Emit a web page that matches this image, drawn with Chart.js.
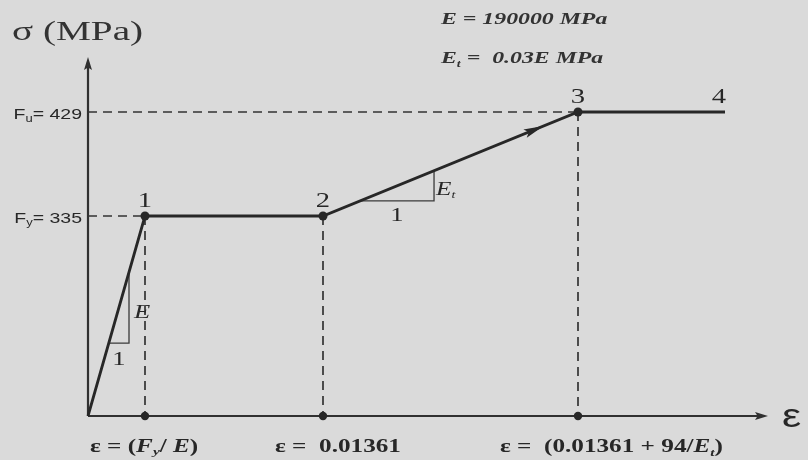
<!DOCTYPE html>
<html>
<head>
<meta charset="utf-8">
<script src="https://cdn.jsdelivr.net/npm/chart.js@4/dist/chart.umd.min.js"></script>
<style>
  html, body { margin: 0; padding: 0; background: #dadada; }
  #wrap { width: 808px; height: 460px; position: relative; }
</style>
</head>
<body>
<div id="wrap"><canvas id="chart"></canvas></div>
<script>
// Bilinear steel model: key points of the stress-strain curve
const pointNames = ['', '1', '2', '3', '4'];
const strainValues = [0, 0.00176, 0.01361, 0.03010, 0.0400];
const stressValues = [0, 335, 335, 429, 429];

// Stress levels marked on the vertical axis
const stressTicks = [429, 335];
const stressTickSymbols = ['u', 'y'];

// Strains marked on the horizontal axis
const strainTicks = [0.00176, 0.01361, 0.03010];

// Slope triangles (run / rise) drawn along the elastic and hardening branches
const elasticTriStrain = [0.000642, 0.001266, 0.001266];
const elasticTriStress = [122, 122, 240];
const hardeningTriStrain = [0.0160, 0.02079, 0.02079];
const hardeningTriStress = [348.6, 348.6, 375.9];

// The diagram is a sketch, not drawn to scale: each axis is piecewise linear
const AXIS_BREAKS = {
  x: { values: [0, 0.00176, 0.01361, 0.03010, 0.0400, 0.0428],
       fractions: [0, 57 / 680, 235 / 680, 490 / 680, 637 / 680, 1] },
  y: { values: [0, 335, 429, 480],
       fractions: [0, 200 / 358, 304 / 358, 1] }
};

class PiecewiseScale extends Chart.LinearScale {
  _toFraction(v) {
    const b = AXIS_BREAKS[this.id];
    const vals = b.values, fr = b.fractions;
    let i = 1;
    while (i < vals.length - 1 && v > vals[i]) i++;
    return fr[i - 1] + (v - vals[i - 1]) * (fr[i] - fr[i - 1]) / (vals[i] - vals[i - 1]);
  }
  getPixelForValue(value) {
    if (value === null || value === undefined || isNaN(value)) return NaN;
    return this.getPixelForDecimal(this._toFraction(value));
  }
  getValueForPixel(pixel) {
    const d = this.getDecimalForPixel(pixel);
    const b = AXIS_BREAKS[this.id];
    const vals = b.values, fr = b.fractions;
    let i = 1;
    while (i < fr.length - 1 && d > fr[i]) i++;
    return vals[i - 1] + (d - fr[i - 1]) * (vals[i] - vals[i - 1]) / (fr[i] - fr[i - 1]);
  }
}
PiecewiseScale.id = 'piecewise';
PiecewiseScale.defaults = Chart.LinearScale.defaults;
Chart.register(PiecewiseScale);

const INK = '#272727';
const SERIF = '"Liberation Serif", "Times New Roman", serif';
const SANS = '"Liberation Sans", Arial, sans-serif';
const STRETCH = 1.4; // the lettering is set wide

function pts(xs, ys) { return xs.map((x, i) => ({ x, y: ys[i] })); }

// Dashed guides from the key points to both axes
const guideData = [];
[[strainValues[1], stressValues[1]], [strainValues[3], stressValues[3]]].forEach(([e, s]) => {
  guideData.push({ x: 0, y: s }, { x: e, y: s }, { x: e, y: null });
});
[[strainValues[1], stressValues[1]], [strainValues[2], stressValues[2]], [strainValues[3], stressValues[3]]].forEach(([e, s]) => {
  guideData.push({ x: e, y: s }, { x: e, y: 0 }, { x: e, y: null });
});

function drawRich(ctx, parts, x, y, align, stretch) {
  const sx = stretch || STRETCH;
  ctx.save();
  let w = 0;
  parts.forEach(p => { ctx.font = p.font; w += ctx.measureText(p.t).width; });
  ctx.translate(x, y);
  ctx.scale(sx, 1);
  let cx = align === 'center' ? -w / 2 : (align === 'right' ? -w : 0);
  ctx.textBaseline = 'alphabetic';
  ctx.textAlign = 'left';
  parts.forEach(p => {
    ctx.font = p.font;
    ctx.fillStyle = p.color || INK;
    ctx.fillText(p.t, cx, p.dy || 0);
    cx += ctx.measureText(p.t).width;
  });
  ctx.restore();
}

function arrowHead(ctx, tipX, tipY, angle, len, half) {
  ctx.save();
  ctx.translate(tipX, tipY);
  ctx.rotate(angle);
  ctx.beginPath();
  ctx.moveTo(0, 0);
  ctx.lineTo(-len, -half);
  ctx.lineTo(-len * 0.8, 0);
  ctx.lineTo(-len, half);
  ctx.closePath();
  ctx.fill();
  ctx.restore();
}

const diagramPlugin = {
  id: 'diagram',
  beforeDraw(chart) {
    const ctx = chart.ctx;
    ctx.save();
    ctx.fillStyle = '#dadada';
    ctx.fillRect(0, 0, chart.width, chart.height);
    ctx.restore();
  },
  beforeDatasetsDraw(chart) {
    const { ctx, chartArea: a, scales: { x, y } } = chart;
    const ox = x.getPixelForValue(0), oy = y.getPixelForValue(0);
    ctx.save();
    ctx.strokeStyle = '#303030';
    ctx.fillStyle = '#303030';
    ctx.lineWidth = 2.2;
    ctx.beginPath();
    ctx.moveTo(ox, oy); ctx.lineTo(ox, a.top + 4);
    ctx.moveTo(ox, oy); ctx.lineTo(a.right - 4, oy);
    ctx.stroke();
    arrowHead(ctx, ox, a.top - 1, -Math.PI / 2, 13, 4);
    arrowHead(ctx, a.right, oy, 0, 13, 4);
    ctx.restore();
  },
  afterDatasetsDraw(chart) {
    const { ctx, chartArea: a, scales: { x, y } } = chart;
    ctx.save();
    ctx.fillStyle = INK;

    // direction arrow on the hardening branch
    const x2 = x.getPixelForValue(strainValues[2]), y2 = y.getPixelForValue(stressValues[2]);
    const x3 = x.getPixelForValue(strainValues[3]), y3 = y.getPixelForValue(stressValues[3]);
    const t = 0.865;
    arrowHead(ctx, x2 + (x3 - x2) * t, y2 + (y3 - y2) * t, Math.atan2(y3 - y2, x3 - x2), 20, 4.5);

    // titles and moduli
    drawRich(ctx, [{ t: 'σ (MPa)', font: `28px ${SERIF}`, color: '#333' }], 12, 40, 'left');
    drawRich(ctx, [{ t: 'E = 190000 MPa', font: `bold italic 17px ${SERIF}`, color: '#333' }], 441, 24, 'left');
    drawRich(ctx, [
      { t: 'E', font: `bold italic 17px ${SERIF}`, color: '#333' },
      { t: 't', font: `bold italic 10px ${SERIF}`, dy: 4, color: '#333' },
      { t: ' =  0.03E MPa', font: `bold italic 17px ${SERIF}`, color: '#333' }
    ], 441, 63, 'left');

    // point numbers
    pointNames.forEach((n, i) => {
      if (!n) return;
      const px = x.getPixelForValue(strainValues[i]) + (i === 4 ? -6 : 0);
      const py = y.getPixelForValue(stressValues[i]) - 9;
      drawRich(ctx, [{ t: n, font: `22px ${SERIF}` }], px, py, 'center', 1.3);
    });

    // stress labels on the vertical axis
    stressTicks.forEach((s, i) => {
      const py = y.getPixelForValue(s) + 7;
      drawRich(ctx, [
        { t: 'F', font: `15px ${SANS}` },
        { t: stressTickSymbols[i], font: `10px ${SANS}`, dy: 3 },
        { t: '= ' + s, font: `15px ${SANS}` }
      ], 82, py, 'right', 1.3);
    });

    // strain labels under the horizontal axis
    const base = y.getPixelForValue(0) + 36;
    const b = `bold 18px ${SERIF}`, bi = `bold italic 18px ${SERIF}`, bs = `bold italic 11px ${SERIF}`;
    const strainLabelParts = [
      [{ t: 'ε = (', font: b }, { t: 'F', font: bi }, { t: 'y', font: bs, dy: 3 }, { t: '/ ', font: b }, { t: 'E', font: bi }, { t: ')', font: b }],
      [{ t: 'ε =  0.01361', font: b }],
      [{ t: 'ε =  (0.01361 + 94/', font: b }, { t: 'E', font: bi }, { t: 't', font: bs, dy: 4 }, { t: ')', font: b }]
    ];
    const labelShift = [-55, -48, -78];
    strainTicks.forEach((e, i) => {
      drawRich(ctx, strainLabelParts[i], x.getPixelForValue(e) + labelShift[i], base, 'left');
    });

    // axis symbol
    drawRich(ctx, [{ t: 'ε', font: `33px ${SANS}` }], a.right + 14, y.getPixelForValue(0) + 11, 'left', 1.3);

    // slope labels
    const ex = x.getPixelForValue(elasticTriStrain[1]);
    const eyTop = y.getPixelForValue(elasticTriStress[2]), eyBot = y.getPixelForValue(elasticTriStress[1]);
    drawRich(ctx, [{ t: 'E', font: `italic 19px ${SERIF}` }], ex + 5, (eyTop + eyBot) / 2 + 10, 'left');
    const exL = x.getPixelForValue(elasticTriStrain[0]);
    drawRich(ctx, [{ t: '1', font: `19px ${SERIF}` }], (exL + ex) / 2, eyBot + 22, 'center');

    const hx = x.getPixelForValue(hardeningTriStrain[1]);
    const hyTop = y.getPixelForValue(hardeningTriStress[2]), hyBot = y.getPixelForValue(hardeningTriStress[1]);
    drawRich(ctx, [{ t: 'E', font: `italic 18px ${SERIF}` }, { t: 't', font: `italic 10px ${SERIF}`, dy: 3 }], hx + 2, (hyTop + hyBot) / 2 + 9, 'left');
    const hxL = x.getPixelForValue(hardeningTriStrain[0]);
    drawRich(ctx, [{ t: '1', font: `19px ${SERIF}` }], (hxL + hx) / 2, hyBot + 20, 'center');

    ctx.restore();
  }
};

new Chart(document.getElementById('chart'), {
  type: 'line',
  data: {
    datasets: [
      {
        label: 'σ–ε',
        data: pts(strainValues, stressValues),
        borderColor: INK,
        borderWidth: 2.8,
        pointRadius: pointNames.map((n, i) => (i === 0 || i === 4) ? 0 : 4.5),
        pointBackgroundColor: INK,
        pointBorderWidth: 0,
        tension: 0,
        clip: false,
        order: 0
      },
      {
        label: 'strain marks',
        data: strainTicks.map(e => ({ x: e, y: 0 })),
        showLine: false,
        pointRadius: 4.2,
        pointBackgroundColor: INK,
        pointBorderWidth: 0,
        clip: false,
        order: 1
      },
      {
        label: 'elastic slope',
        data: pts(elasticTriStrain, elasticTriStress),
        borderColor: '#3a3a3a',
        borderWidth: 1.3,
        pointRadius: 0,
        tension: 0,
        clip: false,
        order: 2
      },
      {
        label: 'hardening slope',
        data: pts(hardeningTriStrain, hardeningTriStress),
        borderColor: '#3a3a3a',
        borderWidth: 1.3,
        pointRadius: 0,
        tension: 0,
        clip: false,
        order: 2
      },
      {
        label: 'guides',
        data: guideData,
        borderColor: '#333',
        borderWidth: 1.7,
        borderDash: [9, 6],
        pointRadius: 0,
        spanGaps: false,
        tension: 0,
        clip: false,
        order: 3
      }
    ]
  },
  options: {
    responsive: true,
    maintainAspectRatio: false,
    animation: false,
    events: [],
    layout: { padding: { left: 88, top: 58, right: 40, bottom: 44 } },
    plugins: { legend: { display: false }, tooltip: { enabled: false } },
    scales: {
      x: { type: 'piecewise', min: 0, max: 0.0428, display: false },
      y: { type: 'piecewise', min: 0, max: 480, display: false }
    }
  },
  plugins: [diagramPlugin]
});
</script>
</body>
</html>
